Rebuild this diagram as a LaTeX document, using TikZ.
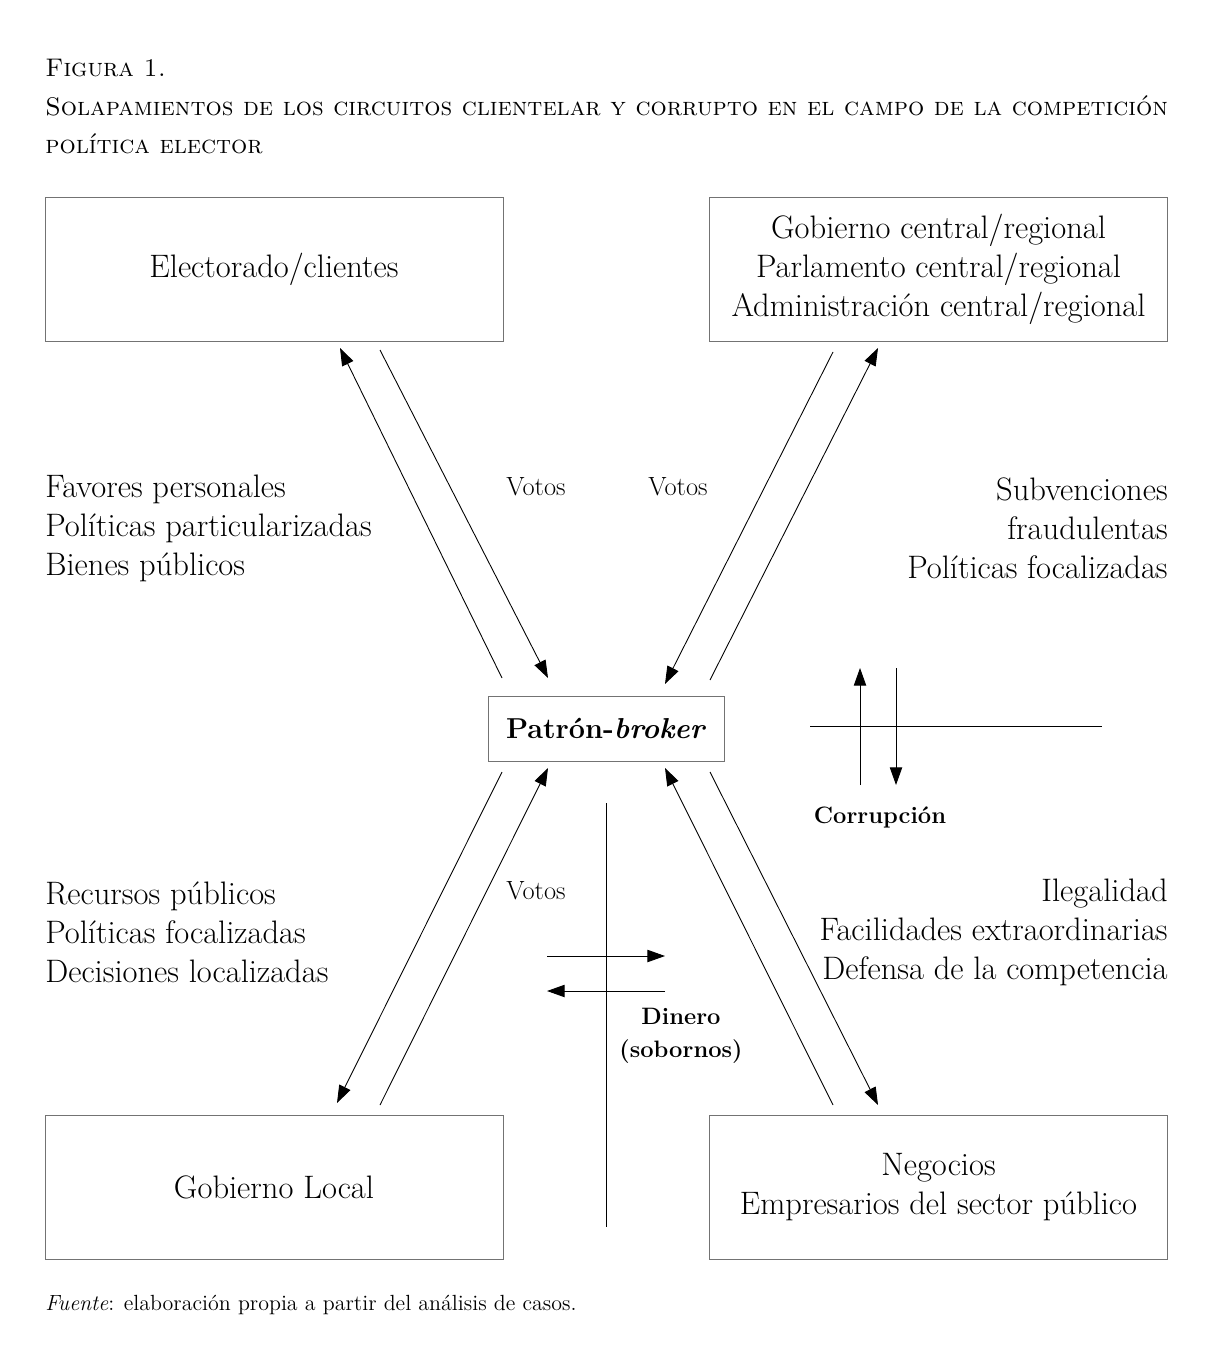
\documentclass[tikz,border=0pt]{standalone}
\usepackage{tikz}
\usetikzlibrary{arrows.meta}

\begin{document}
\begin{tikzpicture}[x=0.02cm, y=-0.02cm, >={Triangle[length=10pt,width=7pt]},
  caja/.style={draw=black!55, line width=0.5pt, minimum width=9.16cm, minimum height=2.88cm, align=center, font=\fontsize{18.5}{22.2}\selectfont},
  texto/.style={font=\fontsize{18.5}{22.2}\selectfont},
  flecha/.style={->, line width=0.5pt},
  votos/.style={font=\fontsize{15}{16}\selectfont},
  negrita/.style={font=\fontsize{13.5}{18.5}\selectfont\bfseries, align=center}]

\useasboundingbox (0,0) rectangle (1214,1371);

% titulo
\node[anchor=base west, inner sep=0pt, font=\fontsize{14.5}{16}\selectfont] (fig) at (45,77) {\textsc{Figura 1.}};
\node[anchor=base west, inner sep=0pt, font=\fontsize{14.5}{16}\selectfont] (tit1) at (45,116) {\textsc{Solapamientos de los circuitos clientelar y corrupto en el campo de la competición}};
\node[anchor=base west, inner sep=0pt, font=\fontsize{14.5}{16}\selectfont] (tit2) at (45,154) {\textsc{política elector}};

% cajas
\node[caja] (elect) at (274,269) {Electorado/clientes};
\node[caja] (gob) at (938.5,269) {Gobierno central/regional\\Parlamento central/regional\\Administración central/regional};
\node[caja, minimum width=4.72cm, minimum height=1.3cm, font=\fontsize{16.4}{20}\selectfont\bfseries] (patron) at (606,728.5) {Patrón-\textit{broker}};
\node[caja] (local) at (274,1187) {Gobierno Local};
\node[caja] (neg) at (938.5,1187) {Negocios\\Empresarios del sector público};

% extremos de las flechas
\coordinate (a1) at (502,678); \coordinate (a2) at (340,348);
\coordinate (b1) at (380,350); \coordinate (b2) at (548,678);
\coordinate (c1) at (833,352); \coordinate (c2) at (665,684);
\coordinate (d1) at (710,680); \coordinate (d2) at (878,348);
\coordinate (e1) at (502,772); \coordinate (e2) at (337,1103);
\coordinate (f1) at (380,1105); \coordinate (f2) at (548,768);
\coordinate (g1) at (833,1105); \coordinate (g2) at (665,768);
\coordinate (h1) at (710,772); \coordinate (h2) at (878,1105);

\draw[flecha] (a1) -- (a2);
\draw[flecha] (b1) -- (b2);
\draw[flecha] (c1) -- (c2);
\draw[flecha] (d1) -- (d2);
\draw[flecha] (e1) -- (e2);
\draw[flecha] (f1) -- (f2);
\draw[flecha] (g1) -- (g2);
\draw[flecha] (h1) -- (h2);

\node[votos] (v1) at (536,487) {Votos};
\node[votos] (v2) at (678,487) {Votos};
\node[votos] (v3) at (536,891) {Votos};

% textos laterales
\node[texto, anchor=west, align=left, inner sep=0pt] (fav) at (45,528) {Favores personales\\Políticas particularizadas\\Bienes públicos};
\node[texto, anchor=east, align=right, inner sep=0pt] (subv) at (1168,528) {Subvenciones\\fraudulentas\\Políticas focalizadas};
\node[texto, anchor=west, align=left, inner sep=0pt] (rec) at (45,932) {Recursos públicos\\Políticas focalizadas\\Decisiones localizadas};
\node[texto, anchor=east, align=right, inner sep=0pt] (ileg) at (1168,932) {Ilegalidad\\Facilidades extraordinarias\\Defensa de la competencia};

% corrupcion
\coordinate (co1) at (810,726); \coordinate (co2) at (1102,726);
\coordinate (cu1) at (860,785); \coordinate (cu2) at (860,668);
\coordinate (cd1) at (896,668); \coordinate (cd2) at (896,785);
\draw[line width=0.5pt] (co1) -- (co2);
\draw[flecha] (cu1) -- (cu2);
\draw[flecha] (cd1) -- (cd2);
\node[negrita] (corr) at (880,817) {Corrupción};

% dinero
\coordinate (di1) at (606,803); \coordinate (di2) at (606,1227);
\coordinate (dr1) at (547,956); \coordinate (dr2) at (665,956);
\coordinate (dl1) at (665,991); \coordinate (dl2) at (547,991);
\draw[line width=0.5pt] (di1) -- (di2);
\draw[flecha] (dr1) -- (dr2);
\draw[flecha] (dl1) -- (dl2);
\node[negrita] (din) at (681,1036) {Dinero\\(sobornos)};

% fuente
\node[anchor=west, inner sep=0pt, font=\fontsize{12.5}{14}\selectfont] (fuente) at (45,1305) {\textit{Fuente}: elaboración propia a partir del análisis de casos.};

\end{tikzpicture}
\end{document}
